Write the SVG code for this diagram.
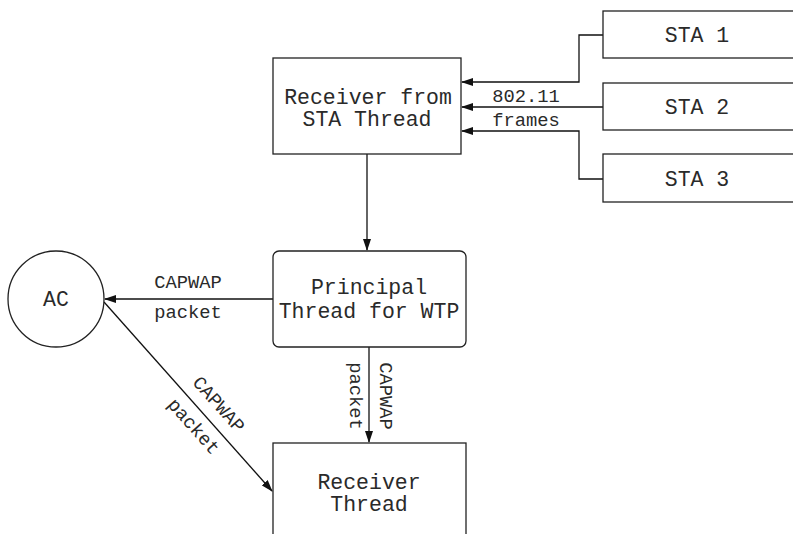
<svg xmlns="http://www.w3.org/2000/svg" width="793" height="534" viewBox="0 0 793 534">
<style>
.box{fill:#fff;stroke:#222;stroke-width:1.3}
.t{font-family:"Liberation Mono","Courier New",monospace;font-size:21.5px;fill:#2a2a2a;text-anchor:middle}
.l{font-family:"Liberation Mono","Courier New",monospace;font-size:18.8px;fill:#2a2a2a;text-anchor:middle}
.c{fill:none;stroke:#111;stroke-width:1.3}
</style>
<defs>
<marker id="a" markerWidth="12" markerHeight="8" refX="11" refY="4" orient="auto" markerUnits="userSpaceOnUse">
<path d="M0,0 L12,4 L0,8 Z" fill="#111"/>
</marker>
</defs>
<rect width="793" height="534" fill="#fff"/>
<g id="connectors">
<path class="c" d="M603,35 H579 V82 H462" marker-end="url(#a)"/>
<path class="c" d="M603,107 H462" marker-end="url(#a)"/>
<path class="c" d="M603,179 H579 V131 H462" marker-end="url(#a)"/>
<path class="c" d="M367,154 V250" marker-end="url(#a)"/>
<path class="c" d="M273,299 H105" marker-end="url(#a)"/>
<path class="c" d="M369,347 V442" marker-end="url(#a)"/>
<path class="c" d="M104,302 L272,491" marker-end="url(#a)"/>
<text class="l" x="526" y="102">802.11</text>
<text class="l" x="526" y="126">frames</text>
<text class="l" x="188" y="288">CAPWAP</text>
<text class="l" x="188" y="318">packet</text>
<text class="l" transform="translate(355,396) rotate(90)" y="5">packet</text>
<text class="l" transform="translate(385,396) rotate(90)" y="5">CAPWAP</text>
<text class="l" transform="translate(218,405) rotate(48.3)" y="5">CAPWAP</text>
<text class="l" transform="translate(193,427) rotate(48.3)" y="5">packet</text>
</g>
<g id="sta1"><rect class="box" x="603" y="11" width="200" height="47"/><text class="t" x="697" y="42">STA 1</text></g>
<g id="sta2"><rect class="box" x="603" y="83" width="200" height="47"/><text class="t" x="697" y="114">STA 2</text></g>
<g id="sta3"><rect class="box" x="603" y="154" width="200" height="48"/><text class="t" x="697" y="186">STA 3</text></g>
<g id="recvsta"><rect class="box" x="273" y="58" width="188" height="96"/><text class="t" x="368" y="104">Receiver from</text><text class="t" x="367" y="126">STA Thread</text></g>
<g id="principal"><rect class="box" x="273" y="251" width="193" height="96" rx="6"/><text class="t" x="369" y="294">Principal</text><text class="t" x="369" y="318">Thread for WTP</text></g>
<g id="ac"><circle class="box" cx="56" cy="299" r="48"/><text class="t" x="56" y="306">AC</text></g>
<g id="recvthread"><rect class="box" x="273" y="443" width="193" height="100"/><text class="t" x="369" y="489">Receiver</text><text class="t" x="369" y="511">Thread</text></g>
</svg>
